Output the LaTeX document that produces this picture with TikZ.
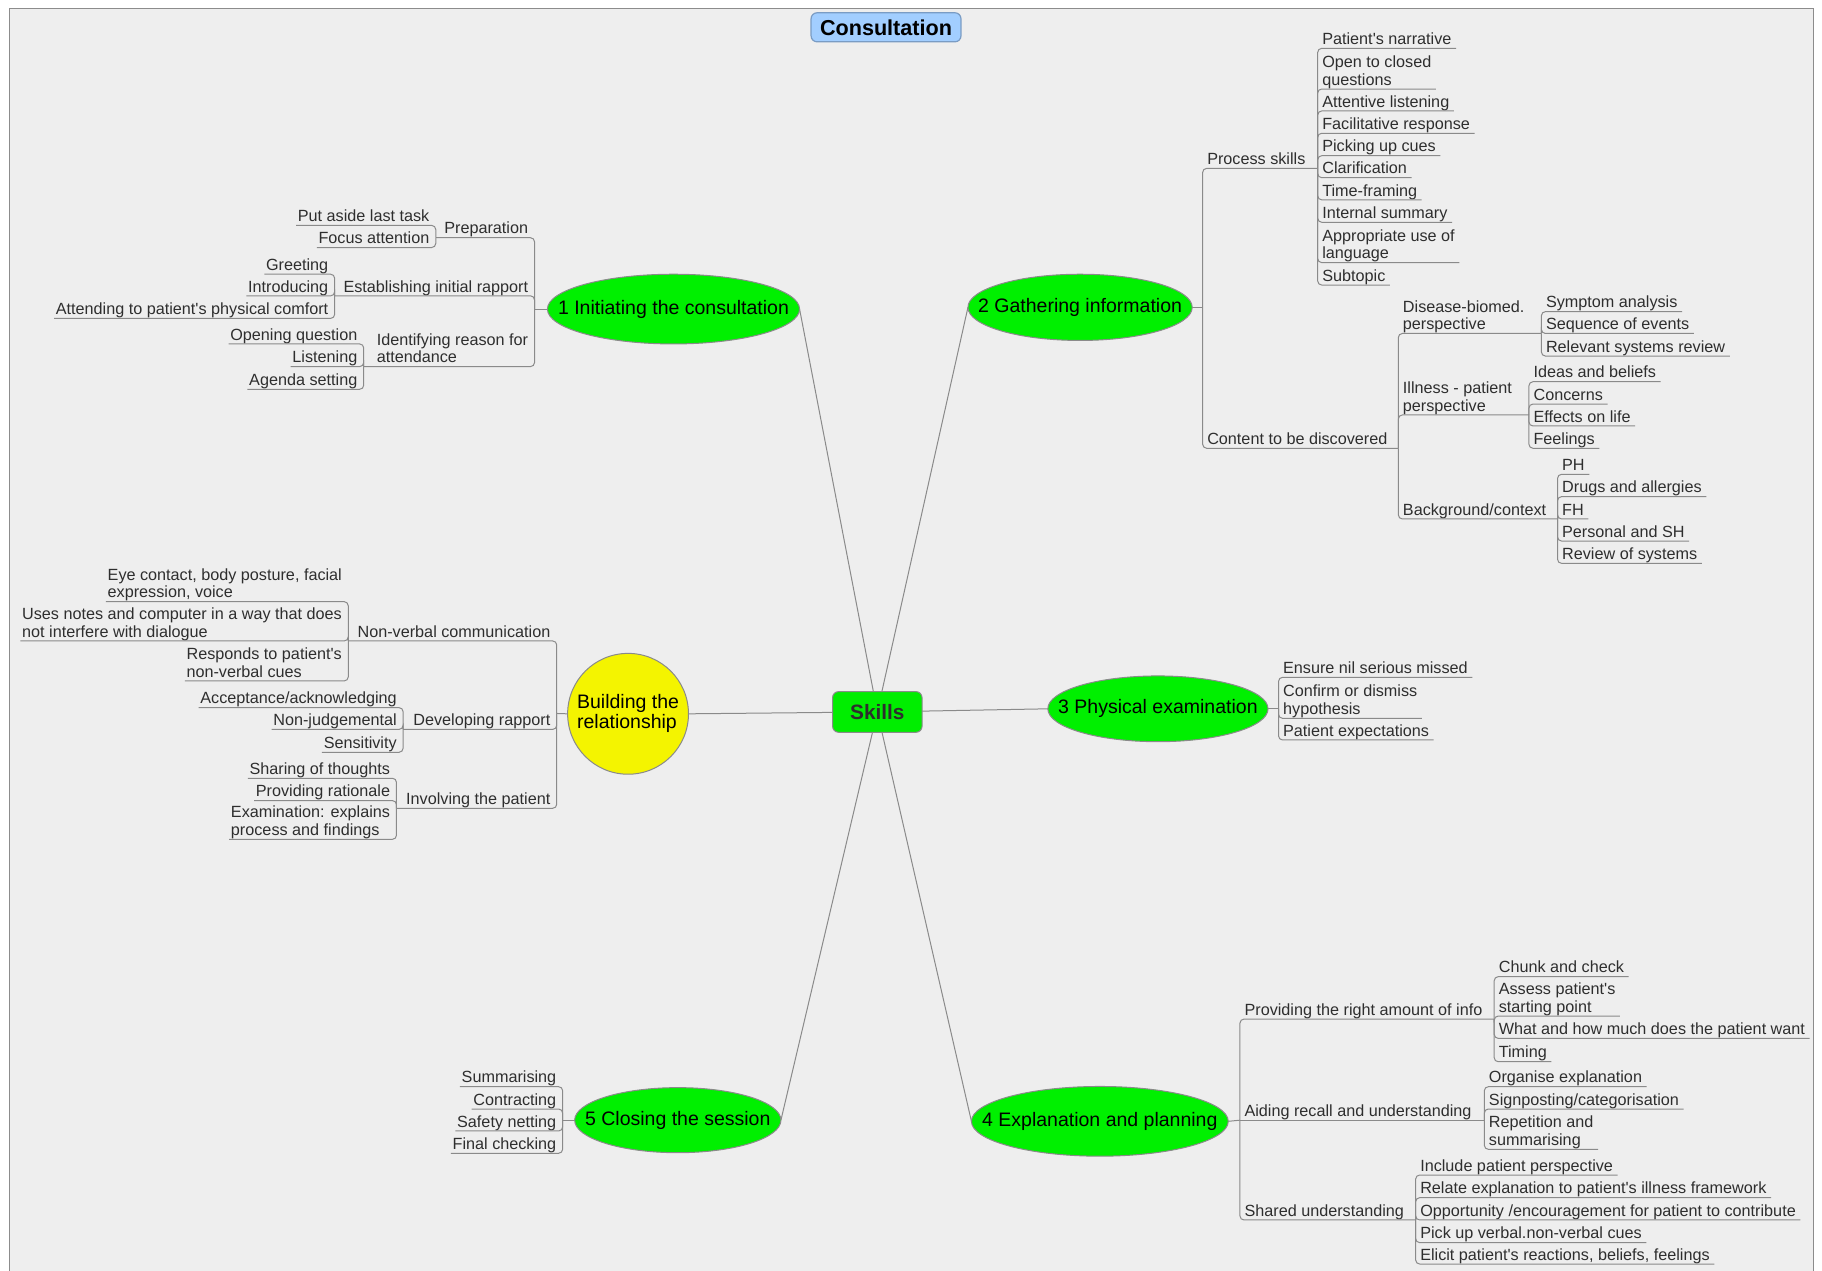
\documentclass[tikz,border=0pt]{standalone}
\usepackage{fontspec}
\setmainfont{Liberation Sans}[Ligatures=TeXOff]
\usetikzlibrary{shapes.geometric,backgrounds}

\definecolor{canvas}{HTML}{EEEEEE}
\definecolor{framegray}{HTML}{8C8C8C}
\definecolor{linegray}{HTML}{8A8A8A}
\definecolor{topicgreen}{HTML}{00F000}
\definecolor{skillgreen}{HTML}{00EE00}
\definecolor{relyellow}{HTML}{F4F400}
\definecolor{titleblue}{HTML}{A2CEFF}
\definecolor{titleedge}{HTML}{7A9CC4}
\definecolor{txt}{HTML}{2E2E2E}

\newcommand\dpx{0.581pt}
\newcommand\leaffont{\fontsize{8.1}{8.8}\selectfont}
\newcommand\topicfont{\fontsize{9.75}{11.2}\selectfont}
\newcommand\lstrut{\rule[-1.9pt]{0pt}{1.9pt}}

\tikzset{
  conn/.style={draw=linegray, line width=0.5pt, rounded corners=2pt},
  spoke/.style={draw=linegray, line width=0.5pt},
  rleaf/.style={anchor=south west, inner xsep=2.3pt, inner ysep=0pt, outer sep=0pt,
    align=left, font=\leaffont, text=txt, execute at end node=\lstrut},
  lleaf/.style={anchor=south east, inner xsep=0.9pt, inner ysep=0pt, outer sep=0pt,
    align=left, font=\leaffont, text=txt, xshift=-2.3pt, execute at end node=\lstrut},
  topic/.style={ellipse, draw=linegray, line width=0.5pt, fill=topicgreen,
    inner sep=0pt, outer sep=0pt, font=\topicfont, text=black},
}

\begin{document}
\begin{tikzpicture}[x=0.581pt, y=-0.581pt]
\useasboundingbox (0,0) rectangle (1568,1093);

% title
\node[draw=titleedge, fill=titleblue, rounded corners=3pt, line width=0.6pt,
      minimum width={129*\dpx}, minimum height={25*\dpx}, inner sep=0pt,
      font=\fontsize{10.8}{12}\selectfont\bfseries] (title) at (762.5,23.5) {Consultation};

% central node and main topics
\node[draw=linegray, fill=skillgreen, rounded corners=3pt, line width=0.5pt,
      minimum width={77*\dpx}, minimum height={35*\dpx}, inner sep=0pt,
      font=\fontsize{10.4}{12}\selectfont\bfseries, text=txt] (sk) at (755,612.7) {Skills};

\node[topic, minimum width={217*\dpx}, minimum height={60*\dpx}] (e1) at (579.6,266)
  {\makebox[0pt]{1 Initiating the consultation}};
\node[topic, minimum width={193*\dpx}, minimum height={57*\dpx}] (e2) at (929.5,264.5)
  {\makebox[0pt]{2 Gathering information}};
\node[topic, minimum width={189.5*\dpx}, minimum height={56.6*\dpx}] (e3) at (996.5,610)
  {\makebox[0pt]{3 Physical examination}};
\node[topic, minimum width={221*\dpx}, minimum height={60*\dpx}] (e4) at (946.5,965)
  {\makebox[0pt]{4 Explanation and planning}};
\node[topic, minimum width={177.5*\dpx}, minimum height={56*\dpx}] (e5) at (583.3,964)
  {\makebox[0pt]{5 Closing the session}};
\node[circle, draw=linegray, line width=0.5pt, fill=relyellow, inner sep=0pt,
      minimum size={104*\dpx}, font=\topicfont, text=black] (rel) at (540.5,614.3)
  {\makebox[0pt]{\begin{tabular}{@{}l@{}}Building the\\[-1.2pt]relationship\end{tabular}}};

% canvas, frame and the spokes out of the centre, all behind the nodes
\begin{scope}[on background layer]
  \fill[white] (0,0) rectangle (1568,1093);
  \draw[framegray, fill=canvas, line width=0.6pt] (8,7) rectangle (1561,1110);
  \draw[spoke] (sk.center) -- (e1.east);
  \draw[spoke] (sk.center) -- (e2.west);
  \draw[spoke] (sk.center) -- (e3.west);
  \draw[spoke] (sk.center) -- (e4.west);
  \draw[spoke] (sk.center) -- (e5.east);
  \draw[spoke] (sk.center) -- (rel.east);
\end{scope}

% ---------- 1 Initiating the consultation ----------
\coordinate (j1) at (460,266);
\draw[conn] (e1.west) -- (j1);

\node[lleaf] (prep) at (460,204.6) {Preparation};
\coordinate (jprep) at (375,204.6);
\draw[conn] (j1) |- (prep.south west) -- (jprep);
\node[lleaf] (putaside) at (375,194) {Put aside last task};
\node[lleaf] (focus) at (375,213) {Focus attention};
\foreach \n in {putaside,focus} \draw[conn] (jprep) |- (\n.south west);

\node[lleaf] (estab) at (460,254.6) {Establishing initial rapport};
\coordinate (jest) at (288,254.6);
\draw[conn] (j1) |- (estab.south west) -- (jest);
\node[lleaf] (greet) at (288,236) {Greeting};
\node[lleaf] (intro) at (288,254.6) {Introducing};
\node[lleaf] (attend) at (288,274) {Attending to patient's physical comfort};
\foreach \n in {greet,intro,attend} \draw[conn] (jest) |- (\n.south west);

\node[lleaf] (ident) at (460,315.5) {Identifying reason for\\attendance};
\coordinate (jid) at (313,315.5);
\draw[conn] (j1) |- (ident.south west) -- (jid);
\node[lleaf] (openq) at (313,296) {Opening question};
\node[lleaf] (listen) at (313,315.5) {Listening};
\node[lleaf] (agenda) at (313,335) {Agenda setting};
\foreach \n in {openq,listen,agenda} \draw[conn] (jid) |- (\n.south west);

% ---------- 2 Gathering information ----------
\coordinate (j2) at (1035,264.5);
\draw[conn] (e2.east) -- (j2);

\node[rleaf] (ps) at (1035,144.9) {Process skills};
\coordinate (jps) at (1134,144.9);
\draw[conn] (j2) |- (ps.south east) -- (jps);
\node[rleaf] (pn) at (1134,41.6) {Patient's narrative};
\node[rleaf] (oc) at (1134,76.6) {Open to closed\\questions};
\node[rleaf] (al) at (1134,95.5) {Attentive listening};
\node[rleaf] (fr) at (1134,114.7) {Facilitative response};
\node[rleaf] (pc) at (1134,134) {Picking up cues};
\node[rleaf] (cl) at (1134,152.9) {Clarification};
\node[rleaf] (tf) at (1134,172) {Time-framing};
\node[rleaf] (isum) at (1134,191.3) {Internal summary};
\node[rleaf] (au) at (1134,226) {Appropriate use of\\language};
\node[rleaf] (st) at (1134,245.3) {Subtopic};
\foreach \n in {pn,oc,al,fr,pc,cl,tf,isum,au,st} \draw[conn] (jps) |- (\n.south east);

\node[rleaf] (ctd) at (1035,385.8) {Content to be discovered};
\coordinate (jctd) at (1203.4,385.8);
\draw[conn] (j2) |- (ctd.south east) -- (jctd);

\node[rleaf] (dis) at (1203.4,287) {Disease-biomed.\\perspective};
\coordinate (jdis) at (1326.5,287);
\draw[conn] (jctd) |- (dis.south east) -- (jdis);
\node[rleaf] (sa) at (1326.5,268.2) {Symptom analysis};
\node[rleaf] (se) at (1326.5,287) {Sequence of events};
\node[rleaf] (rsr) at (1326.5,306.4) {Relevant systems review};
\foreach \n in {sa,se,rsr} \draw[conn] (jdis) |- (\n.south east);

\node[rleaf] (ill) at (1203.4,357.1) {Illness - patient\\perspective};
\coordinate (jill) at (1315.8,357.1);
\draw[conn] (jctd) |- (ill.south east) -- (jill);
\node[rleaf] (ib) at (1315.8,328.5) {Ideas and beliefs};
\node[rleaf] (conc) at (1315.8,347.7) {Concerns};
\node[rleaf] (eol) at (1315.8,366.6) {Effects on life};
\node[rleaf] (feel) at (1315.8,385.8) {Feelings};
\foreach \n in {ib,conc,eol,feel} \draw[conn] (jill) |- (\n.south east);

\node[rleaf] (bg) at (1203.4,446.6) {Background/context};
\coordinate (jbg) at (1340.4,446.6);
\draw[conn] (jctd) |- (bg.south east) -- (jbg);
\node[rleaf] (ph) at (1340.4,408.2) {PH};
\node[rleaf] (da) at (1340.4,427.4) {Drugs and allergies};
\node[rleaf] (fh) at (1340.4,446.6) {FH};
\node[rleaf] (psh) at (1340.4,465.6) {Personal and SH};
\node[rleaf] (ros) at (1340.4,484.8) {Review of systems};
\foreach \n in {ph,da,fh,psh,ros} \draw[conn] (jbg) |- (\n.south east);

% ---------- 3 Physical examination ----------
\coordinate (j3) at (1100.3,610);
\draw[conn] (e3.east) -- (j3);
\node[rleaf] (ens) at (1100.3,582.9) {Ensure nil serious missed};
\node[rleaf] (conf) at (1100.3,618.2) {Confirm or dismiss\\hypothesis};
\node[rleaf] (pexp) at (1100.3,636.8) {Patient expectations};
\foreach \n in {ens,conf,pexp} \draw[conn] (j3) |- (\n.south east);

% ---------- 4 Explanation and planning ----------
\coordinate (j4) at (1067.1,964);
\draw[conn] (e4.east) -- (j4);

\node[rleaf] (prov) at (1067.1,877) {Providing the right amount of info};
\coordinate (jprov) at (1285.9,877);
\draw[conn] (j4) |- (prov.south east) -- (jprov);
\node[rleaf] (cc) at (1285.9,840.5) {Chunk and check};
\node[rleaf] (asp) at (1285.9,874.4) {Assess patient's\\starting point};
\node[rleaf] (wh) at (1285.9,893.6) {What and how much does the patient want};
\node[rleaf] (tim) at (1285.9,913.7) {Timing};
\foreach \n in {cc,asp,wh,tim} \draw[conn] (jprov) |- (\n.south east);

\node[rleaf] (aid) at (1067.1,964) {Aiding recall and understanding};
\coordinate (jaid) at (1277.4,964);
\draw[conn] (j4) -- (aid.south east) -- (jaid);
\node[rleaf] (oe) at (1277.4,935.2) {Organise explanation};
\node[rleaf] (sgn) at (1277.4,954.4) {Signposting/categorisation};
\node[rleaf] (rep) at (1277.4,989.1) {Repetition and\\summarising};
\foreach \n in {oe,sgn,rep} \draw[conn] (jaid) |- (\n.south east);

\node[rleaf] (shu) at (1067.1,1049.9) {Shared understanding};
\coordinate (jsh) at (1218.3,1049.9);
\draw[conn] (j4) |- (shu.south east) -- (jsh);
\node[rleaf] (ipp) at (1218.3,1011.2) {Include patient perspective};
\node[rleaf] (rex) at (1218.3,1030.7) {Relate explanation to patient's illness framework};
\node[rleaf] (opp) at (1218.3,1049.9) {Opportunity /encouragement for patient to contribute};
\node[rleaf] (puc) at (1218.3,1069.4) {Pick up verbal.non-verbal cues};
\node[rleaf] (eli) at (1218.3,1087.8) {Elicit patient's reactions, beliefs, feelings};
\foreach \n in {ipp,rex,opp,puc,eli} \draw[conn] (jsh) |- (\n.south east);

% ---------- 5 Closing the session ----------
\coordinate (j5) at (484.2,964);
\draw[conn] (e5.west) -- (j5);
\node[lleaf] (summ) at (484.2,935.2) {Summarising};
\node[lleaf] (contr) at (484.2,954.4) {Contracting};
\node[lleaf] (safe) at (484.2,973.3) {Safety netting};
\node[lleaf] (finc) at (484.2,992.5) {Final checking};
\foreach \n in {summ,contr,safe,finc} \draw[conn] (j5) |- (\n.south west);

% ---------- Building the relationship ----------
\coordinate (jb) at (479.1,614);
\draw[conn] (rel.west) -- (jb);

\node[lleaf] (nvc) at (479.1,551.6) {Non-verbal communication};
\coordinate (jnvc) at (299.7,551.6);
\draw[conn] (jb) |- (nvc.south west) -- (jnvc);
\node[lleaf] (eye) at (299.7,517.8) {Eye contact, body posture, facial\\expression, voice};
\node[lleaf] (notes) at (299.7,551.6) {Uses notes and computer in a way that does\\not interfere with dialogue};
\node[lleaf] (resp) at (299.7,586) {Responds to patient's\\non-verbal cues};
\foreach \n in {eye,notes,resp} \draw[conn] (jnvc) |- (\n.south west);

\node[lleaf] (dev) at (479.1,627.7) {Developing rapport};
\coordinate (jdev) at (346.9,627.7);
\draw[conn] (jb) |- (dev.south west) -- (jdev);
\node[lleaf] (acc) at (346.9,609) {Acceptance/acknowledging};
\node[lleaf] (nonj) at (346.9,627.7) {Non-judgemental};
\node[lleaf] (sens) at (346.9,647.4) {Sensitivity};
\foreach \n in {acc,nonj,sens} \draw[conn] (jdev) |- (\n.south west);

\node[lleaf] (inv) at (479.1,695.6) {Involving the patient};
\coordinate (jinv) at (341.2,695.6);
\draw[conn] (jb) |- (inv.south west) -- (jinv);
\node[lleaf] (sot) at (341.2,669.8) {Sharing of thoughts};
\node[lleaf] (prat) at (341.2,689) {Providing rationale};
\node[lleaf] (exam) at (341.2,722.3) {Examination: explains\\process and findings};
\foreach \n in {sot,prat,exam} \draw[conn] (jinv) |- (\n.south west);
\end{tikzpicture}
\end{document}
